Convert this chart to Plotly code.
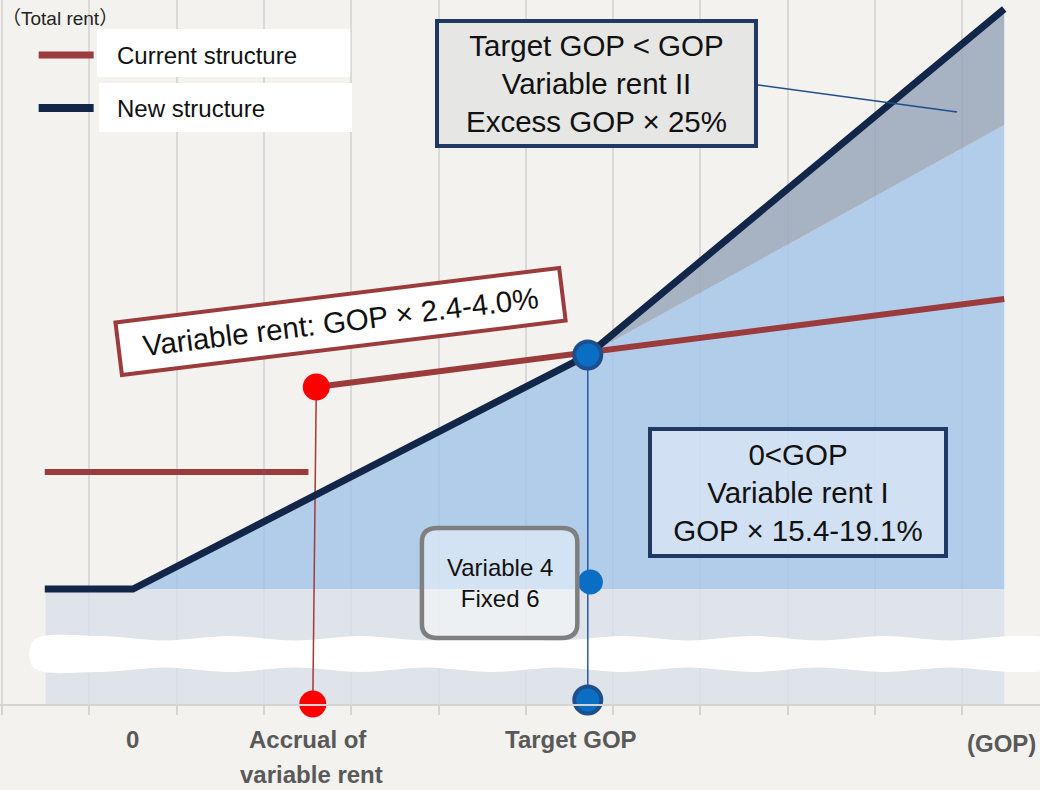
import plotly.graph_objects as go

# x: GOP in grid steps (one vertical gridline per step), y: total rent
new_x = [0.49, 1.50, 6.71, 11.48]
new_y = [2.30, 2.30, 6.98, 13.90]

cur_fixed_x = [0.49, 3.51]
cur_fixed_y = [4.64, 4.64]
cur_var_x = [3.60, 11.48]
cur_var_y = [6.34, 8.10]

# shaded areas
fixed_area_x = [0.50, 0.50, 11.48, 11.48]
fixed_area_y = [0.00, 2.30, 2.30, 0.00]
rent1_area_x = [1.50, 6.71, 11.48, 11.48]
rent1_area_y = [2.30, 6.98, 11.58, 2.30]
rent2_area_x = [6.71, 11.48, 11.48]
rent2_area_y = [6.98, 13.90, 11.58]

# marker lines
accrual_x = [3.60, 3.56]
accrual_y = [6.34, 0.0]
target_x = [6.71, 6.71]
target_y = [6.98, 0.08]
target_dots_x = [6.71, 6.71]
target_dots_y = [6.98, 0.08]
split_dot_x = [6.74]
split_dot_y = [2.44]

axis_labels = ["0", "Accrual of", "variable rent", "Target GOP", "(GOP)"]
axis_label_x = [1.50, 3.51, 3.55, 6.52, 11.03]
axis_label_y = [-0.72, -0.72, -1.40, -0.72, -0.78]

# break band in the fixed part
break_x = [0.36, 1.11, 1.86, 2.61, 3.36, 4.11, 4.86, 5.61, 6.36, 7.11, 7.86,
           8.61, 9.36, 10.11, 10.86, 11.61, 12.0]
break_top, break_bot, bump = 1.30, 0.70, 0.06

Y_MAX = 14.08
NAVY = "#12264a"
RED = "#9b3b3b"
FONT = "Liberation Sans, Arial, Noto Sans CJK JP, sans-serif"
BG = "#f3f2ee"

fig = go.Figure()

fig.add_trace(go.Scatter(x=fixed_area_x, y=fixed_area_y, fill="toself", mode="none",
                         fillcolor="rgba(218,223,232,0.8)", hoverinfo="skip"))
fig.add_trace(go.Scatter(x=rent1_area_x, y=rent1_area_y, fill="toself", mode="none",
                         fillcolor="rgba(160,195,232,0.8)", hoverinfo="skip"))
fig.add_trace(go.Scatter(x=rent2_area_x, y=rent2_area_y, fill="toself", mode="none",
                         fillcolor="rgba(147,161,183,0.8)", hoverinfo="skip"))

# wavy white break
top_x, top_y, bot_x, bot_y = [], [], [], []
for i, bx in enumerate(break_x):
    top_x.append(bx)
    top_y.append(break_top + (bump if i % 2 else -bump / 2))
    bot_x.append(bx)
    bot_y.append(break_bot - (bump if i % 2 else -bump / 2))
fig.add_trace(go.Scatter(x=top_x + bot_x[::-1] + [top_x[0]],
                         y=top_y + bot_y[::-1] + [top_y[0]],
                         fill="toself", mode="lines", line=dict(width=0, shape="spline"),
                         fillcolor="white", hoverinfo="skip", cliponaxis=False))

fig.add_trace(go.Scatter(x=accrual_x, y=accrual_y, mode="lines",
                         line=dict(color="#a33a3a", width=1.5), cliponaxis=False))
fig.add_trace(go.Scatter(x=target_x, y=target_y, mode="lines",
                         line=dict(color="#2a5aa0", width=1.5), cliponaxis=False))

fig.add_trace(go.Scatter(x=cur_fixed_x, y=cur_fixed_y, mode="lines",
                         line=dict(color=RED, width=6)))
fig.add_trace(go.Scatter(x=cur_var_x, y=cur_var_y, mode="lines",
                         line=dict(color=RED, width=6)))
fig.add_trace(go.Scatter(x=new_x, y=new_y, mode="lines",
                         line=dict(color=NAVY, width=7), cliponaxis=False))

fig.add_trace(go.Scatter(x=[accrual_x[0], accrual_x[1]], y=[accrual_y[0], accrual_y[1]],
                         mode="markers", marker=dict(color="#ff0000", size=27),
                         cliponaxis=False))
fig.add_trace(go.Scatter(x=split_dot_x, y=split_dot_y, mode="markers",
                         marker=dict(color="#0a6ec4", size=25), cliponaxis=False))
fig.add_trace(go.Scatter(x=target_dots_x, y=target_dots_y, mode="markers",
                         marker=dict(color="#0a6ec4", size=27,
                                     line=dict(color="#1f4e8c", width=4)),
                         cliponaxis=False))

# legend samples
fig.add_trace(go.Scatter(x=[0.42, 1.05], y=[12.98, 12.98], mode="lines",
                         line=dict(color=RED, width=7)))
fig.add_trace(go.Scatter(x=[0.42, 1.05], y=[11.92, 11.92], mode="lines",
                         line=dict(color=NAVY, width=8)))

shapes = [
    dict(type="rect", xref="x", yref="y", x0=1.09, x1=3.99, y0=12.54, y1=13.50,
         fillcolor="white", line=dict(width=0)),
    dict(type="rect", xref="x", yref="y", x0=1.11, x1=4.01, y0=11.44, y1=12.42,
         fillcolor="white", line=dict(width=0)),
    dict(type="line", xref="x", yref="y", x0=8.66, y0=12.38, x1=10.94, y1=11.84,
         line=dict(color="#1f4e8c", width=1.5)),
    dict(type="path", xref="x", yref="y",
         path="M 4.99 3.52 L 6.41 3.52 Q 6.59 3.52 6.59 3.24 L 6.59 1.60 "
              "Q 6.59 1.32 6.41 1.32 L 4.99 1.32 Q 4.81 1.32 4.81 1.60 "
              "L 4.81 3.24 Q 4.81 3.52 4.99 3.52 Z",
         fillcolor="rgba(255,255,255,0.45)", line=dict(color="#7f7f7f", width=4.5)),
]

annotations = [
    dict(x=-0.02, y=13.72, xanchor="left", text="（Total rent）", showarrow=False,
         font=dict(family=FONT, size=19, color="#222222")),
    dict(x=1.29, y=12.98, xanchor="left", text="Current structure", showarrow=False,
         font=dict(family=FONT, size=24, color="#111111")),
    dict(x=1.30, y=11.92, xanchor="left", text="New structure", showarrow=False,
         font=dict(family=FONT, size=24, color="#111111")),
    dict(x=6.81, y=12.41, text="Target GOP &lt; GOP<br>Variable rent II<br>Excess GOP × 25%",
         showarrow=False, width=315, height=121, bgcolor="#e6e6e4",
         bordercolor="#1f3864", borderwidth=4, borderpad=0,
         font=dict(family=FONT, size=29.5, color="#111111")),
    dict(x=9.12, y=4.23, text="0&lt;GOP<br>Variable rent I<br>GOP × 15.4-19.1%",
         showarrow=False, width=292, height=123, bgcolor="rgba(230,238,248,0.6)",
         bordercolor="#1f3864", borderwidth=4, borderpad=0,
         font=dict(family=FONT, size=29.5, color="#111111")),
    dict(x=3.88, y=7.655, text="Variable rent: GOP × 2.4-4.0%", textangle=-7,
         showarrow=False, width=443, height=49, bgcolor="#ffffff",
         bordercolor=RED, borderwidth=4, borderpad=0,
         font=dict(family=FONT, size=29.5, color="#111111")),
    dict(x=5.70, y=2.42, text="Variable 4<br>Fixed 6", showarrow=False,
         font=dict(family=FONT, size=24, color="#111111")),
]
for t, lx, ly in zip(axis_labels, axis_label_x, axis_label_y):
    annotations.append(dict(x=lx, y=ly / Y_MAX, yref="paper", yanchor="middle",
                            text="<b>" + t + "</b>", showarrow=False,
                            xanchor="left" if t == "(GOP)" else "center",
                            font=dict(family=FONT, size=24, color="#595959")))

fig.update_layout(
    width=1040, height=790,
    margin=dict(l=0, r=0, t=0, b=86),
    paper_bgcolor=BG, plot_bgcolor=BG,
    showlegend=False,
    shapes=shapes,
    annotations=annotations,
    xaxis=dict(range=[-0.0229, 11.89], tickvals=list(range(12)), showgrid=True,
               gridcolor="#d9d9d9", gridwidth=1.5, showticklabels=False,
               ticks="outside", ticklen=9, tickcolor="#d4d4d4", tickwidth=1.5,
               showline=True, linecolor="#d4d4d4", linewidth=1.5, zeroline=False,
               fixedrange=True),
    yaxis=dict(range=[0, Y_MAX], showgrid=False, zeroline=False,
               showticklabels=False, fixedrange=True),
)

fig.write_html("out.html", config={"displayModeBar": False},
               post_script="document.body.style.margin='0';")
